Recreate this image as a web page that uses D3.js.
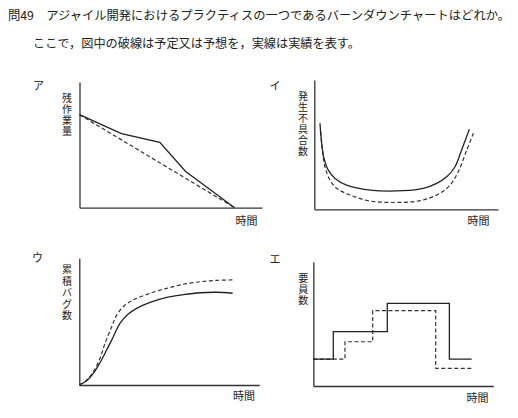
<!DOCTYPE html>
<html>
<head>
<meta charset="utf-8">
<script src="https://cdn.jsdelivr.net/npm/d3@7"></script>
<style>
  body { margin: 0; background: #fff; }
  text { font-family: "Noto Sans CJK JP", "Noto Sans", sans-serif; fill: #222; }
</style>
</head>
<body>
<div id="chart"></div>
<script>
// question text
var titleLines = [
  "問49　アジャイル開発におけるプラクティスの一つであるバーンダウンチャートはどれか。",
  "ここで，図中の破線は予定又は予想を，実線は実績を表す。"
];
var panelLetters = ["ア", "イ", "ウ", "エ"];
var yLabels = ["残作業量", "発生不具合数", "累積バグ数", "要員数"];
var xLabel = "時間";

// ア : remaining work (burn down)
var burnTime = [0, 23, 44, 58, 85];
var burnActual = [74, 59, 52, 29, 0];
var burnPlanTime = [0, 85];
var burnPlan = [74, 0];

// イ : defects (bathtub)
var defectTime = [3.1, 4.0, 5.3, 7.6, 11.3, 17.6, 30.3, 48.4, 59.3, 66.6, 72.1, 76.6, 80.2, 84.4];
var defectActual = [66.5, 51, 39.4, 30.3, 23.9, 18.7, 14.9, 14.4, 16.2, 20.1, 25.2, 32.9, 45.9, 61.9];
var defectPlanTime = [3.5, 4.4, 5.8, 8.5, 12.2, 19.4, 30.3, 48.4, 59.3, 68.4, 73.9, 78.4, 83.0, 86.6];
var defectPlan = [60, 45.9, 32.9, 22.7, 16.2, 11.1, 6.4, 5.4, 7.2, 12.4, 18.8, 29.1, 45.9, 58.8];

// ウ : cumulative bugs
var bugTime = [0, 4.1, 7.8, 11.5, 15.2, 18.9, 22.6, 27.2, 31.9, 39.3, 48.6, 57.8, 67.1, 76.3, 85.2];
var bugActual = [0, 3.4, 9.2, 17.6, 27.6, 38.1, 48.7, 56.0, 60.5, 65.2, 69.2, 71.3, 72.8, 73.2, 72.4];
var bugPlanTime = [0, 4.1, 7.8, 11.5, 14.3, 18.0, 20.8, 25.4, 30.0, 39.3, 48.6, 57.8, 67.1, 76.3, 85.6];
var bugPlan = [0, 3.9, 10.5, 21.1, 32.9, 46.0, 55.2, 63.1, 67.1, 72.4, 76.3, 79.5, 81.5, 82.6, 82.9];

// エ : staff (steps)
var staffTime = [0, 11.1, 41.1, 75.6, 88];
var staffActual = [21.7, 43.7, 66.5, 21.7, 21.7];
var staffPlanTime = [0, 17.6, 33.0, 68.0, 88];
var staffPlan = [21.7, 35.6, 60.6, 14.2, 14.2];

function zip(xs, ys) {
  return xs.map(function(x, i) { return [x, ys[i]]; });
}

var panels = [
  { letter: panelLetters[0], label: yLabels[0], ox: 79.5, oy: 207.7, w: 182.5, h: 125.7,
    lx: 67, ly: 97.5, lstep: 11, letterPos: [38.5, 84.5], timePos: [246.5, 220],
    curve: d3.curveLinear,
    actual: zip(burnTime, burnActual), plan: zip(burnPlanTime, burnPlan) },
  { letter: panelLetters[1], label: yLabels[1], ox: 314.3, oy: 209.3, w: 183.7, h: 129.3,
    lx: 303, ly: 95.5, lstep: 11, letterPos: [275, 85], timePos: [478.5, 220],
    curve: d3.curveCatmullRom,
    actual: zip(defectTime, defectActual), plan: zip(defectPlanTime, defectPlan) },
  { letter: panelLetters[2], label: yLabels[2], ox: 79.3, oy: 385, w: 180, h: 126.7,
    lx: 67, ly: 268.5, lstep: 11.5, letterPos: [37.5, 257], timePos: [244, 395],
    curve: d3.curveCatmullRom,
    actual: zip(bugTime, bugActual), plan: zip(bugPlanTime, bugPlan) },
  { letter: panelLetters[3], label: yLabels[3], ox: 313.3, oy: 386, w: 180, h: 124.3,
    lx: 303.3, ly: 277, lstep: 11, letterPos: [275, 258], timePos: [477.5, 397],
    curve: d3.curveStepAfter,
    actual: zip(staffTime, staffActual), plan: zip(staffPlanTime, staffPlan) }
];

var svg = d3.select("#chart")
  .append("svg")
  .attr("width", 518)
  .attr("height", 418);

// title
svg.selectAll(".title")
  .data(titleLines)
  .enter()
  .append("text")
  .attr("class", "title")
  .attr("x", function(d, i) { return i === 0 ? 8 : 33; })
  .attr("y", function(d, i) { return i === 0 ? 15 : 43; })
  .attr("dominant-baseline", "central")
  .attr("font-size", "12.2px")
  .attr("textLength", function(d, i) { return i === 0 ? 502 : 327; })
  .attr("lengthAdjust", "spacingAndGlyphs")
  .text(function(d) { return d; });

panels.forEach(function(p) {
  var x = d3.scaleLinear().domain([0, 100]).range([p.ox, p.ox + p.w]);
  var y = d3.scaleLinear().domain([0, 100]).range([p.oy, p.oy - p.h]);

  var g = svg.append("g");

  // axes, no ticks
  g.append("g")
    .attr("transform", "translate(0," + p.oy + ")")
    .call(d3.axisBottom(x).ticks(0).tickSizeOuter(0))
    .select(".domain").attr("stroke", "#333").attr("stroke-width", 1.3);
  g.append("g")
    .attr("transform", "translate(" + p.ox + ",0)")
    .call(d3.axisLeft(y).ticks(0).tickSizeOuter(0))
    .select(".domain").attr("stroke", "#333").attr("stroke-width", 1.3);

  var line = d3.line()
    .x(function(d) { return x(d[0]); })
    .y(function(d) { return y(d[1]); })
    .curve(p.curve);

  // plan (dashed)
  g.append("path")
    .datum(p.plan)
    .attr("fill", "none")
    .attr("stroke", "#333")
    .attr("stroke-width", 1.2)
    .attr("stroke-dasharray", "4,2.5")
    .attr("d", line);

  // actual (solid)
  g.append("path")
    .datum(p.actual)
    .attr("fill", "none")
    .attr("stroke", "#222")
    .attr("stroke-width", 1.3)
    .attr("d", line);

  // vertical y label, one character per line
  g.selectAll(".ylab")
    .data(p.label.split(""))
    .enter()
    .append("text")
    .attr("x", p.lx)
    .attr("y", function(d, i) { return p.ly + i * p.lstep; })
    .attr("text-anchor", "middle")
    .attr("dominant-baseline", "central")
    .attr("font-size", "10px")
    .attr("fill", "#333")
    .text(function(d) { return d; });

  g.append("text")
    .attr("x", p.timePos[0])
    .attr("y", p.timePos[1])
    .attr("text-anchor", "middle")
    .attr("dominant-baseline", "central")
    .attr("font-size", "11px")
    .attr("fill", "#333")
    .text(xLabel);

  g.append("text")
    .attr("x", p.letterPos[0])
    .attr("y", p.letterPos[1])
    .attr("text-anchor", "middle")
    .attr("dominant-baseline", "central")
    .attr("font-size", "11px")
    .attr("fill", "#333")
    .text(p.letter);
});
</script>
</body>
</html>
